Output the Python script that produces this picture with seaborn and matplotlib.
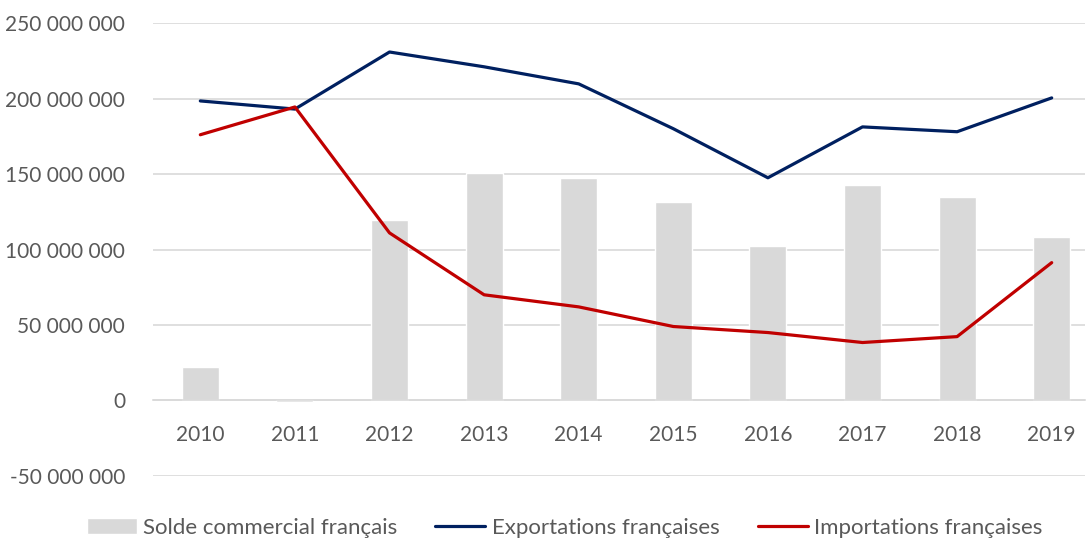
import pandas as pd
import seaborn as sns
import matplotlib.pyplot as plt
from matplotlib.ticker import FuncFormatter

years = ["2010", "2011", "2012", "2013", "2014", "2015", "2016", "2017", "2018", "2019"]
solde = [22.5e6, -1.2e6, 119.7e6, 150.5e6, 147.5e6, 131.6e6, 102.5e6, 142.9e6, 135.0e6, 108.5e6]
exportations = [198.4e6, 193.0e6, 230.8e6, 221.0e6, 209.7e6, 180.0e6, 147.5e6, 181.2e6, 178.0e6, 200.4e6]
importations = [176.0e6, 194.4e6, 111.0e6, 70.0e6, 62.0e6, 49.0e6, 45.0e6, 38.4e6, 42.3e6, 91.3e6]

df = pd.DataFrame({"year": years, "pos": range(len(years)),
                   "solde": solde, "exp": exportations, "imp": importations})

sns.set_style("white")
plt.rcParams['font.family'] = ['Lato', 'DejaVu Sans']

fig = plt.figure(figsize=(10.86, 5.39), dpi=100)
ax = fig.add_axes([0.1409, 0.1169, 0.858, 0.8404])

grey = "#d9d9d9"
text_col = "#595959"

sns.barplot(data=df, x="year", y="solde", color=grey, width=0.39,
            saturation=1, ax=ax, label="Solde commercial français", zorder=2)
sns.lineplot(data=df, x="pos", y="exp", color="#002060", linewidth=2.3,
             ax=ax, label="Exportations françaises", zorder=3)
sns.lineplot(data=df, x="pos", y="imp", color="#c00000", linewidth=2.3,
             ax=ax, label="Importations françaises", zorder=3)

ax.set_xlim(-0.5, 9.35)
ax.set_ylim(-50e6, 250e6)
ax.set_yticks([-50e6, 0, 50e6, 100e6, 150e6, 200e6, 250e6])
ax.yaxis.set_major_formatter(FuncFormatter(lambda v, p: f"{v:,.0f}".replace(",", " ")))
ax.grid(axis="y", color=grey, linewidth=1.2, zorder=0)
ax.set_axisbelow(True)

for s in ["top", "right", "left"]:
    ax.spines[s].set_visible(False)
ax.spines["bottom"].set_position(("data", 0))
ax.spines["bottom"].set_color(grey)
ax.spines["bottom"].set_linewidth(1.2)

ax.tick_params(axis="x", length=0, pad=18, labelsize=15, labelcolor=text_col)
ax.tick_params(axis="y", length=0, pad=20, labelsize=15, labelcolor=text_col)
ax.set_xlabel("")
ax.set_ylabel("")

h, l = ax.get_legend_handles_labels()
# bar entry first, as in the original
order = [l.index("Solde commercial français"), l.index("Exportations françaises"),
         l.index("Importations françaises")]
if ax.legend_:
    ax.legend_.remove()
fig.legend([h[i] for i in order], [l[i] for i in order],
           loc="lower center", bbox_to_anchor=(0.52, -0.035), ncol=3,
           frameon=False, fontsize=16, labelcolor=text_col,
           handlelength=2.25, handletextpad=0.3, columnspacing=1.7)

fig.savefig("out.png", dpi=100)
